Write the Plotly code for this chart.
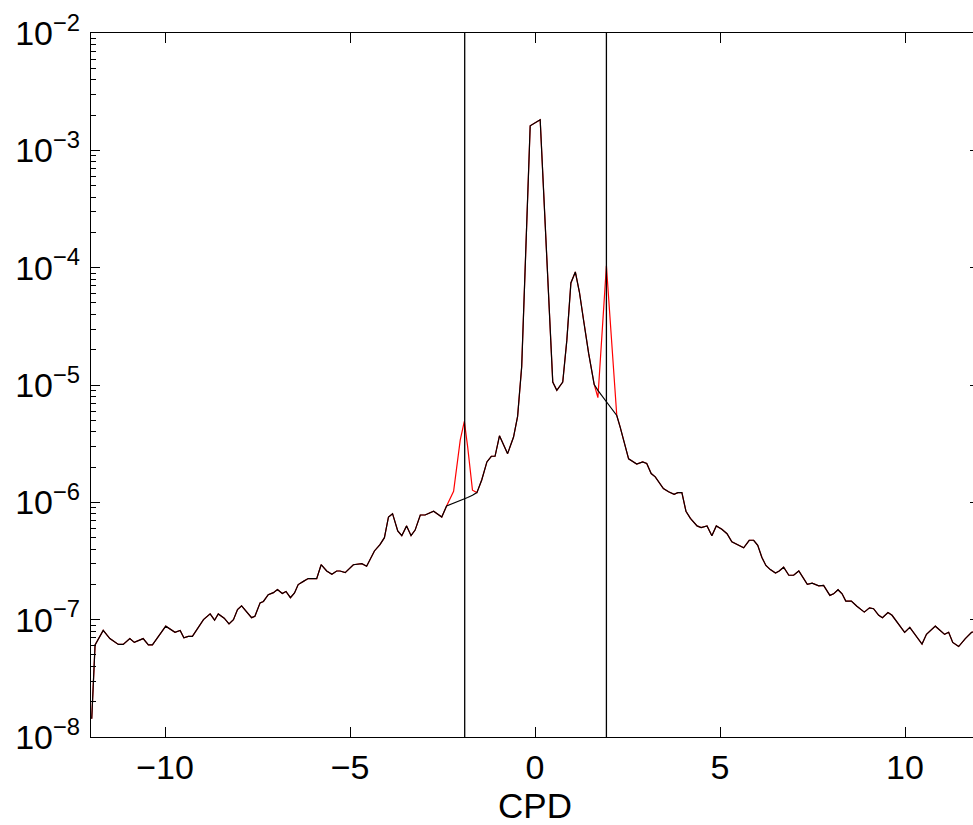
import plotly.graph_objects as go

# ---- data ----
cpd = [-11.98, -11.89, -11.67, -11.49, -11.26, -11.13, -10.95, -10.83, -10.59, -10.45,
       -10.34, -9.98, -9.73, -9.59, -9.49, -9.37, -9.26, -8.96, -8.78, -8.66,
       -8.56, -8.40, -8.27, -8.15, -8.04, -7.93, -7.66, -7.57, -7.43, -7.34,
       -7.21, -7.07, -6.96, -6.83, -6.73, -6.61, -6.50, -6.40, -6.26, -6.13,
       -5.90, -5.78, -5.63, -5.49, -5.36, -5.27, -5.13, -4.91, -4.68, -4.55,
       -4.34, -4.19, -4.07, -3.96, -3.85, -3.71, -3.60, -3.47, -3.35, -3.24,
       -3.10, -2.97, -2.74, -2.65, -2.52, -2.39, -2.20, -2.02, -1.91, -1.82,
       -1.69, -1.57, -1.44, -1.30, -1.18, -1.08, -0.96, -0.74, -0.58, -0.47,
       -0.36, -0.13, 0.14, 0.48, 0.59, 0.75, 0.86, 0.97, 1.09, 1.20,
       1.31, 1.45, 1.60, 1.70, 1.93, 2.21, 2.30, 2.53, 2.75, 2.91,
       3.02, 3.14, 3.25, 3.47, 3.61, 3.76, 3.86, 3.97, 4.08, 4.20,
       4.38, 4.49, 4.65, 4.78, 4.90, 5.05, 5.19, 5.32, 5.64, 5.79,
       5.91, 6.02, 6.13, 6.24, 6.36, 6.50, 6.60, 6.72, 6.86, 6.99,
       7.13, 7.24, 7.36, 7.49, 7.67, 7.80, 7.97, 8.07, 8.19, 8.30,
       8.40, 8.55, 8.70, 8.90, 9.04, 9.15, 9.29, 9.39, 9.54, 9.65,
       9.81, 9.99, 10.13, 10.30, 10.46, 10.58, 10.82, 11.07, 11.18, 11.29,
       11.45, 11.63, 11.80, 11.95]

# spectrum with the two side peaks (red)
power_raw = [1.43e-8, 6.1e-8, 8.1e-8, 6.9e-8, 6.15e-8, 6.15e-8, 6.9e-8, 6.4e-8, 6.9e-8, 6.1e-8,
             6.1e-8, 8.8e-8, 7.8e-8, 8.1e-8, 7.0e-8, 7.2e-8, 7.2e-8, 1.0e-7, 1.12e-7, 9.9e-8,
             1.12e-7, 1.03e-7, 9.2e-8, 1.0e-7, 1.22e-7, 1.31e-7, 1.04e-7, 1.07e-7, 1.39e-7, 1.43e-7,
             1.63e-7, 1.70e-7, 1.81e-7, 1.67e-7, 1.74e-7, 1.54e-7, 1.69e-7, 1.99e-7, 2.12e-7, 2.24e-7,
             2.24e-7, 2.94e-7, 2.6e-7, 2.44e-7, 2.6e-7, 2.6e-7, 2.52e-7, 2.94e-7, 3.0e-7, 2.85e-7,
             3.85e-7, 4.36e-7, 5.0e-7, 7.5e-7, 8.0e-7, 5.7e-7, 5.2e-7, 6.3e-7, 5.2e-7, 5.8e-7,
             7.8e-7, 7.8e-7, 8.4e-7, 8.0e-7, 7.5e-7, 9.3e-7, 1.24e-6, 3.4e-6, 4.9e-6, 2.97e-6,
             1.27e-6, 1.21e-6, 1.55e-6, 2.21e-6, 2.47e-6, 2.47e-6, 3.69e-6, 2.6e-6, 3.6e-6, 5.4e-6,
             1.43e-5, 1.62e-3, 1.82e-3, 1.06e-5, 9.0e-6, 1.06e-5, 2.4e-5, 7.4e-5, 9.2e-5, 6.2e-5,
             3.6e-5, 1.86e-5, 1.01e-5, 7.8e-6, 1.04e-4, 5.5e-6, 4.4e-6, 2.35e-6, 2.12e-6, 2.21e-6,
             2.14e-6, 1.76e-6, 1.65e-6, 1.31e-6, 1.23e-6, 1.17e-6, 1.21e-6, 1.21e-6, 8.4e-7, 7.3e-7,
             6.3e-7, 6.1e-7, 6.3e-7, 5.2e-7, 6.3e-7, 5.9e-7, 5.4e-7, 4.6e-7, 4.1e-7, 4.75e-7,
             4.75e-7, 4.3e-7, 3.4e-7, 2.9e-7, 2.67e-7, 2.5e-7, 2.6e-7, 2.8e-7, 2.39e-7, 2.39e-7,
             2.6e-7, 2.31e-7, 2.0e-7, 2.05e-7, 1.94e-7, 1.96e-7, 1.61e-7, 1.66e-7, 1.8e-7, 1.66e-7,
             1.44e-7, 1.44e-7, 1.3e-7, 1.16e-7, 1.26e-7, 1.24e-7, 1.09e-7, 1.04e-7, 1.15e-7, 1.09e-7,
             9.2e-8, 7.8e-8, 8.6e-8, 7.3e-8, 6.2e-8, 7.5e-8, 8.8e-8, 7.5e-8, 7.8e-8, 6.4e-8,
             5.9e-8, 6.9e-8, 7.8e-8, 8.0e-8]

# spectrum with the side peaks removed (black) — differs only near +/-1.9 CPD
power_clean = list(power_raw)
clean_overrides = {-2.20: 9.8e-7, -2.02: 1.03e-6, -1.91: 1.06e-6, -1.82: 1.10e-6, -1.69: 1.15e-6,
                   1.70: 9.0e-6, 1.93: 7.2e-6}
for k, v in clean_overrides.items():
    power_clean[cpd.index(k)] = v

cutoff_cpd = [-1.90, 1.93]

x_ticks = [-10, -5, 0, 5, 10]
x_ticktext = ["\u221210", "\u22125", "0", "5", "10"]
y_ticks = [1e-8, 1e-7, 1e-6, 1e-5, 1e-4, 1e-3, 1e-2]
y_ticktext = ["10<sup>\u22128</sup>", "10<sup>\u22127</sup>", "10<sup>\u22126</sup>", "10<sup>\u22125</sup>",
              "10<sup>\u22124</sup>", "10<sup>\u22123</sup>", "10<sup>\u22122</sup>"]

FONT = "Liberation Sans, Arial, sans-serif"

fig = go.Figure()
fig.add_trace(go.Scatter(x=cpd, y=power_raw, mode="lines",
                         line=dict(color="#ff0000", width=1.2), showlegend=False))
fig.add_trace(go.Scatter(x=cpd, y=power_clean, mode="lines",
                         line=dict(color="#000000", width=1.2), showlegend=False))

for xv in cutoff_cpd:
    fig.add_shape(type="line", xref="x", yref="paper", x0=xv, x1=xv, y0=0, y1=1,
                  line=dict(color="black", width=1.3))

fig.update_layout(
    width=1000, height=825,
    margin=dict(l=91, r=21, t=33, b=88, autoexpand=False),
    paper_bgcolor="white", plot_bgcolor="white",
    font=dict(family=FONT, size=34, color="black"),
    xaxis=dict(range=[-12, 12], tickvals=x_ticks, ticktext=x_ticktext,
               ticks="inside", ticklen=10, tickwidth=1, tickcolor="black",
               showline=True, linecolor="black", linewidth=1.2, mirror="ticks",
               showgrid=False, zeroline=False,
               title=dict(text="CPD", font=dict(size=35), standoff=0),
               tickfont=dict(size=34)),
    yaxis=dict(type="log", range=[-8, -2], tickvals=y_ticks, ticktext=y_ticktext,
               ticks="inside", ticklen=9, tickwidth=1, tickcolor="black",
               showline=True, linecolor="black", linewidth=1.2, mirror="ticks",
               showgrid=False, zeroline=False, tickfont=dict(size=34),
               ticklabelstandoff=3,
               minor=dict(dtick="D1", ticks="inside", ticklen=5, tickwidth=1,
                          tickcolor="black", showgrid=False)),
)

fig.write_html("out.html", post_script="document.body.style.overflow='hidden';document.body.style.margin='0';")
